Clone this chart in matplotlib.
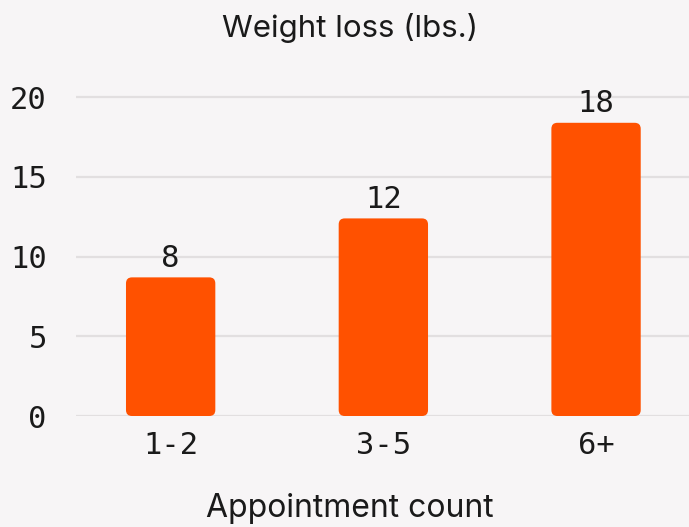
import matplotlib
matplotlib.use("Agg")
import matplotlib.pyplot as plt
from matplotlib.patches import FancyBboxPatch

categories = ["1-2", "3-5", "6+"]
values = [8.7, 12.4, 18.4]
value_labels = ["8", "12", "18"]
yticks = [0, 5, 10, 15, 20]

BG = "#f7f5f6"
BAR = "#ff5100"
GRID = "#e2dfe0"
TXT = "#1a1a1a"
MONO = "DejaVu Sans Mono"
SANS = "Inter"

W, H = 689, 527
fig = plt.figure(figsize=(W / 100, H / 100), dpi=100, facecolor=BG)
ax_left, ax_right = 76, 689
y0_px, y20_px = 416, 97.3
ylim = (0, 20.8)
xlim = (-0.445, 2.437)
ppu = (y0_px - y20_px) / 20
top_px = y0_px - ylim[1] * ppu
ax = fig.add_axes([ax_left / W, (H - y0_px) / H, (ax_right - ax_left) / W, (y0_px - top_px) / H])
ax.set_facecolor(BG)
ax.set_xlim(*xlim)
ax.set_ylim(*ylim)

for s in ax.spines.values():
    s.set_visible(False)
ax.set_yticks(yticks)
ax.yaxis.grid(True, color=GRID, linewidth=1.6)
ax.set_axisbelow(True)
ax.tick_params(axis="both", length=0, colors=TXT)
ax.tick_params(axis="y", pad=21)
ax.tick_params(axis="x", pad=11)
ax.set_xticks(range(len(categories)))
ax.set_xticklabels(categories, fontsize=22, family=MONO)
for lab in ax.get_yticklabels():
    lab.set_fontsize(22)
    lab.set_family(MONO)

# data units per pixel in x and y
xu_px = (xlim[1] - xlim[0]) / (ax_right - ax_left)
yu_px = 1 / ppu
aspect = yu_px / xu_px
radius_px = 6

bars = ax.bar(range(len(categories)), values, width=0.42, color="none", edgecolor="none")
for b, v, lbl in zip(bars, values, value_labels):
    x, w, h = b.get_x(), b.get_width(), b.get_height()
    p = FancyBboxPatch((x, 0), w, h,
                       boxstyle=f"round,pad=0,rounding_size={radius_px * xu_px}",
                       mutation_aspect=aspect, facecolor=BAR, edgecolor="none")
    ax.add_patch(p)
    ax.text(b.get_x() + w / 2, h + 4.5 * yu_px, lbl, ha="center", va="bottom",
            fontsize=22, family=MONO, color=TXT)

fig.text(350 / W, 1 - 28 / H, "Weight loss (lbs.)", ha="center", va="center", fontsize=22.5, family=SANS, color=TXT)
fig.text(350 / W, 1 - 508 / H, "Appointment count", ha="center", va="center", fontsize=23, family=SANS, color=TXT)

fig.savefig("out.png", dpi=100, facecolor=BG)
